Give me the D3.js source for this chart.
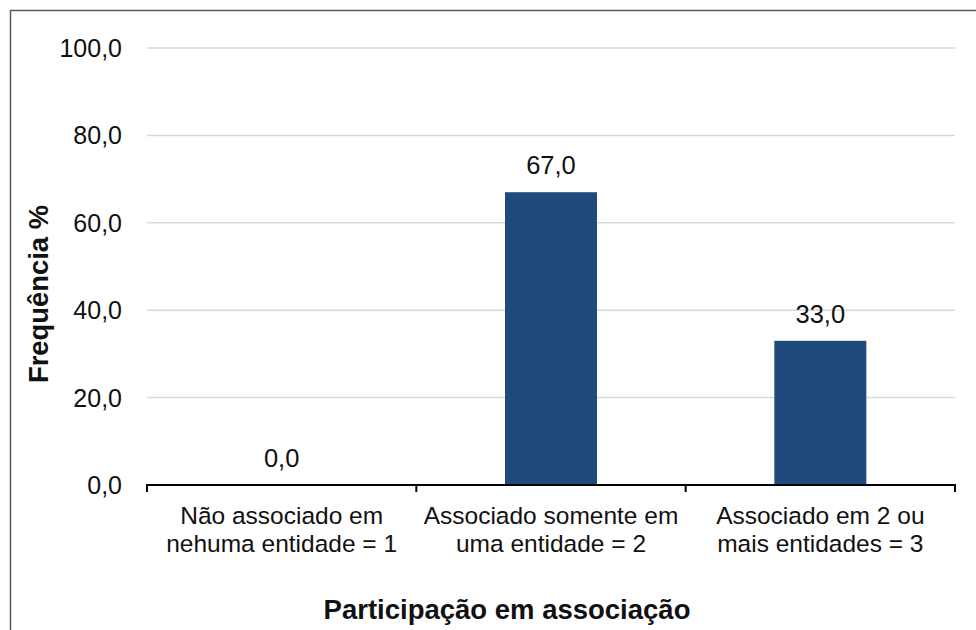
<!DOCTYPE html>
<html><head><meta charset="utf-8">
<script src="https://cdn.jsdelivr.net/npm/d3@7"></script>
<style>body{margin:0;background:#fff;} text{font-family:"Liberation Sans",Arial,sans-serif;}</style>
</head><body><svg id="c" width="976" height="630"></svg>
<script>
const categories = [["Não associado em","nehuma entidade = 1"],["Associado somente em","uma entidade = 2"],["Associado em 2 ou","mais entidades = 3"]];
const values = [0.0, 67.0, 33.0];
const yTicks = [0,20,40,60,80,100];
const yTitle = "Frequência %";
const xTitle = "Participação em associação";

const svg = d3.select("#c");
const m = {left:147, right:955, top:48, bottom:485};
svg.append("rect").attr("x",10.5).attr("y",10.5).attr("width",1000).attr("height",700)
  .attr("fill","none").attr("stroke","#595959").attr("stroke-width",1.5);

const xb = d3.scaleBand().domain(d3.range(values.length)).range([m.left,m.right]);
const y = d3.scaleLinear().domain([0,100]).range([m.bottom,m.top]);
const fmt = d => d3.format(".1f")(d).replace(".",",");

svg.append("g").selectAll("line").data(yTicks.filter(d=>d>0)).join("line")
  .attr("x1",m.left).attr("x2",m.right).attr("y1",d=>y(d)).attr("y2",d=>y(d))
  .attr("stroke","#d9d9d9").attr("stroke-width",1.5);

svg.append("g").selectAll("text").data(yTicks).join("text")
  .attr("x",122).attr("y",d=>y(d)).attr("dy","0.36em").attr("text-anchor","end")
  .attr("font-size",25).attr("fill","#111").text(fmt);

const bw = 92;
svg.append("g").selectAll("rect").data(values).join("rect")
  .attr("x",(d,i)=>xb(i)+xb.bandwidth()/2-bw/2).attr("width",bw)
  .attr("y",d=>y(d)).attr("height",d=>y(0)-y(d)).attr("fill","#214A7C");

svg.append("g").selectAll("text").data(values).join("text")
  .attr("x",(d,i)=>xb(i)+xb.bandwidth()/2).attr("y",d=>y(d)-18)
  .attr("text-anchor","middle").attr("font-size",25.5).attr("fill","#111").text(fmt);

const ax = svg.append("g").attr("transform",`translate(0,${m.bottom})`);
ax.append("line").attr("x1",m.left-1).attr("x2",m.right+1).attr("stroke","#000").attr("stroke-width",2);
const tickPos = d3.range(values.length).map(i=>xb(i)).concat([m.right]);
ax.selectAll("line.t").data(tickPos).join("line").attr("class","t")
  .attr("x1",d=>d).attr("x2",d=>d).attr("y1",0).attr("y2",7).attr("stroke","#000").attr("stroke-width",2);

const cl = svg.append("g").selectAll("text").data(categories).join("text")
  .attr("text-anchor","middle").attr("font-size",24.5).attr("fill","#111");
cl.each(function(d,i){
  const t = d3.select(this);
  d.forEach((s,j)=>t.append("tspan").attr("x",xb(i)+xb.bandwidth()/2).attr("y",524+j*28).text(s));
});

svg.append("text").attr("transform","translate(48,294) rotate(-90)")
  .attr("text-anchor","middle").attr("font-size",27.4).attr("font-weight","bold").attr("fill","#111").text(yTitle);
svg.append("text").attr("x",507).attr("y",619).attr("text-anchor","middle")
  .attr("font-size",27.5).attr("font-weight","bold").attr("fill","#111").text(xTitle);
</script></body></html>
